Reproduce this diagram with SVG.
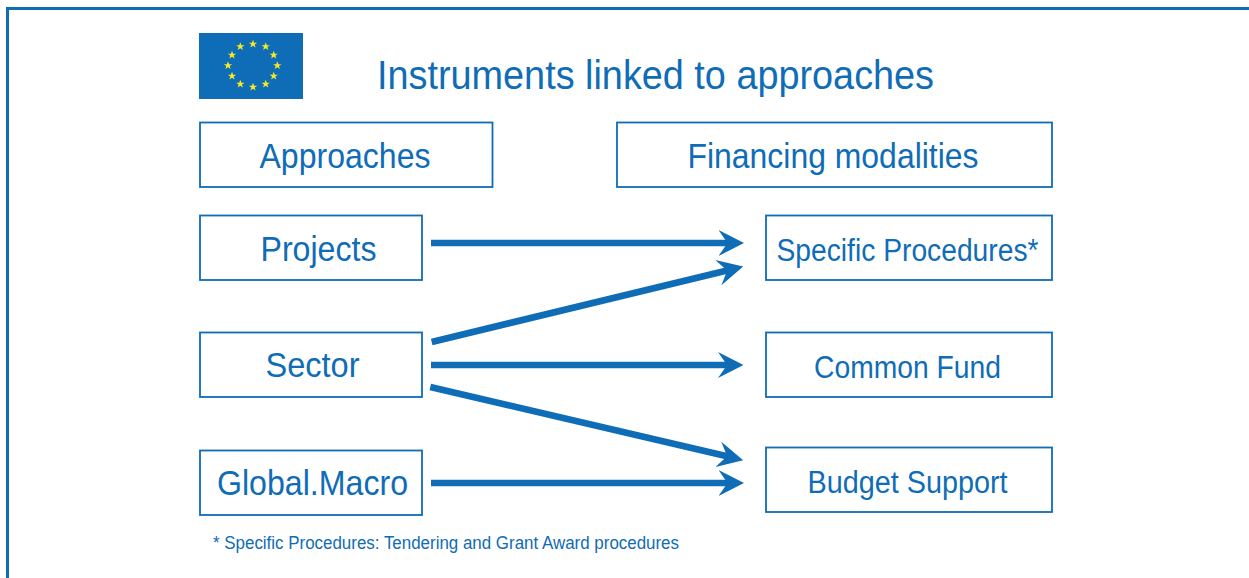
<svg xmlns="http://www.w3.org/2000/svg" width="1249" height="578" viewBox="0 0 1249 578">
<style>
text{font-family:"Liberation Sans",Arial,sans-serif;fill:#0f6cb6;text-anchor:middle}
.box{fill:#fff;stroke:#0f6cb6;stroke-width:1.8}
.a{fill:none;stroke:#0f6cb6;stroke-width:6.7;marker-end:url(#h)}
.t{font-size:35px}
.s{font-size:31px}
</style>
<defs>
<marker id="h" markerUnits="userSpaceOnUse" markerWidth="30" markerHeight="30" refX="10" refY="15" orient="auto" viewBox="0 0 30 30">
<path d="M0 2L25.500 15L0 28L9 15Z" fill="#0f6cb6"/>
</marker>
<polygon id="star" points="0,-4.200 1.100,-1.300 4.200,-1.300 1.700,0.600 2.600,3.600 0,1.800 -2.600,3.600 -1.700,0.600 -4.200,-1.300 -1.100,-1.300" fill="#f4e926"/>
</defs>
<rect width="1249" height="578" fill="#fff"/>
<path id="frame" d="M7.500 578V8.500H1249" fill="none" stroke="#0f6cb6" stroke-width="3"/>
<g id="flag">
<rect x="199" y="33" width="104" height="66" fill="#0f6cb6"/>
<use href="#star" x="253" y="44"/><use href="#star" x="265.700" y="46.500"/><use href="#star" x="273.700" y="55"/><use href="#star" x="277.300" y="65.500"/><use href="#star" x="273.700" y="76"/><use href="#star" x="265.700" y="84"/><use href="#star" x="253" y="87"/><use href="#star" x="240.300" y="84"/><use href="#star" x="232" y="76"/><use href="#star" x="228" y="65.500"/><use href="#star" x="232" y="55"/><use href="#star" x="240.300" y="46.500"/>
</g>
<text id="title" x="655.500" y="89" font-size="40" textLength="557" lengthAdjust="spacingAndGlyphs">Instruments linked to approaches</text>
<g id="approaches"><rect class="box" x="200" y="122.500" width="292.500" height="64.500"/><text class="t" x="345" y="167.500" textLength="171" lengthAdjust="spacingAndGlyphs">Approaches</text></g>
<g id="financing"><rect class="box" x="617" y="122.500" width="435" height="64.500"/><text class="t" x="833" y="167.500" textLength="291" lengthAdjust="spacingAndGlyphs">Financing modalities</text></g>
<g id="projects"><rect class="box" x="200" y="215.500" width="222" height="64.500"/><text class="t" x="318.500" y="261" textLength="116" lengthAdjust="spacingAndGlyphs">Projects</text></g>
<g id="sector"><rect class="box" x="200" y="332.500" width="222" height="64.500"/><text class="t" x="312.500" y="377" textLength="94" lengthAdjust="spacingAndGlyphs">Sector</text></g>
<g id="global"><rect class="box" x="200" y="450.500" width="222" height="64.500"/><text class="t" x="312.500" y="495" textLength="191" lengthAdjust="spacingAndGlyphs">Global.Macro</text></g>
<g id="specific"><rect class="box" x="766" y="215.500" width="286" height="64.500"/><text class="s" x="907.500" y="260.500" textLength="262" lengthAdjust="spacingAndGlyphs">Specific Procedures*</text></g>
<g id="common"><rect class="box" x="766" y="332.500" width="286" height="64.500"/><text class="s" x="907.500" y="377.500" textLength="187" lengthAdjust="spacingAndGlyphs">Common Fund</text></g>
<g id="budget"><rect class="box" x="766" y="447.500" width="286" height="64.500"/><text class="s" x="907.500" y="493" textLength="200" lengthAdjust="spacingAndGlyphs">Budget Support</text></g>
<g id="connectors">
<path class="a" d="M431 243H728.500"/>
<path class="a" d="M431.700 342L728.100 270.200"/>
<path class="a" d="M431 365H728"/>
<path class="a" d="M430.300 387L728.100 456.600"/>
<path class="a" d="M431 483H728.500"/>
</g>
<text id="note" x="446" y="548.700" font-size="17.500" textLength="466" lengthAdjust="spacingAndGlyphs">* Specific Procedures: Tendering and Grant Award procedures</text>
</svg>
